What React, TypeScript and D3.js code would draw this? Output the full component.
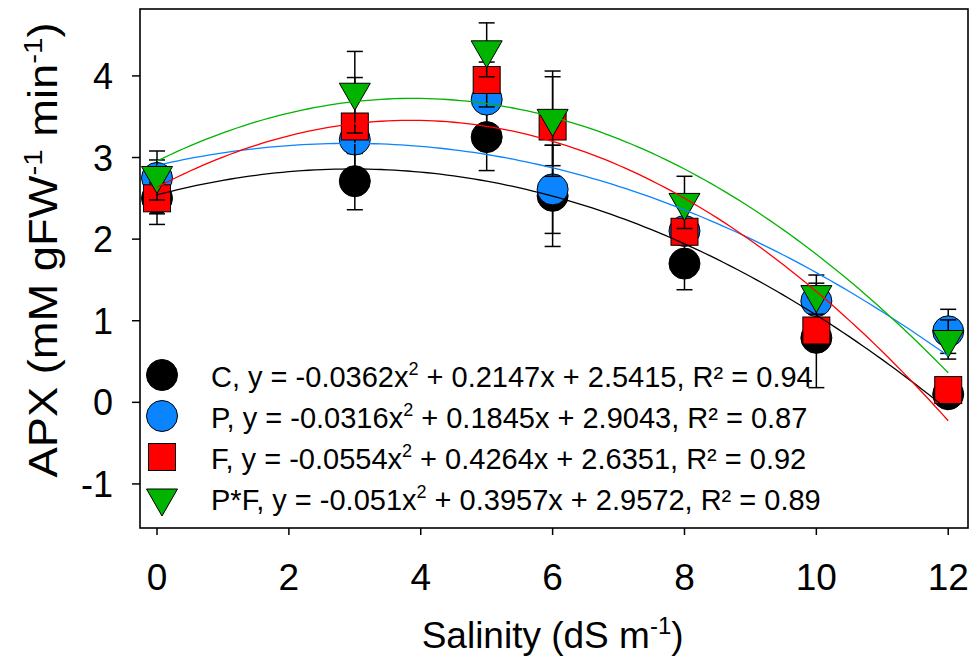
import React from "react";
import * as d3 from "d3";

const salinity = [0, 3, 5, 6, 8, 10, 12];
const seriesNames = ["C", "P", "F", "P*F"];
const cVals = [2.5, 2.71, 3.25, 2.53, 1.7, 0.79, 0.1];
const cErr = [0.32, 0.35, 0.41, 0.62, 0.32, 0.61, 0.05];
const pVals = [2.75, 3.22, 3.71, 2.61, 2.1, 1.24, 0.87];
const pErr = [0.22, 0.17, 0.46, 0.54, 0.1, 0.22, 0.27];
const fVals = [2.5, 3.38, 3.95, 3.38, 2.09, 0.88, 0.15];
const fErr = [0.19, 0.6, 0.33, 0.61, 0.1, 0.1, 0.05];
const pfVals = [2.78, 3.8, 4.32, 3.48, 2.45, 1.32, 0.77];
const pfErr = [0.3, 0.5, 0.33, 0.58, 0.32, 0.24, 0.24];
// quadratic fits: a, b, c
const fitA = [-0.0362, -0.0316, -0.0554, -0.051];
const fitB = [0.2147, 0.1845, 0.4264, 0.3957];
const fitC = [2.5415, 2.9043, 2.6351, 2.9572];
const fitA_txt = ["-0.0362", "-0.0316", "-0.0554", "-0.051"];
const fitB_txt = ["0.2147", "0.1845", "0.4264", "0.3957"];
const fitC_txt = ["2.5415", "2.9043", "2.6351", "2.9572"];
const r2Txt = ["0.94", "0.87", "0.92", "0.89"];
const xTicks = [0, 2, 4, 6, 8, 10, 12];
const yTicks = [-1, 0, 1, 2, 3, 4];

const colors = ["#000000", "#0a84ff", "#ff0000", "#00b400"];
const shapes = ["circle", "circle", "square", "triangle"];
const allVals = [cVals, pVals, fVals, pfVals];
const allErr = [cErr, pErr, fErr, pfErr];

const FONT = "'Liberation Sans', Arial, sans-serif";

const L = 140, R = 968, T = 9, B = 528;

function Marker({ shape, color, cx, cy }: { shape: string; color: string; cx: number; cy: number }) {
  if (shape === "circle") {
    return <circle cx={cx} cy={cy} r={15.5} fill={color} stroke="#000" strokeWidth={1} />;
  }
  if (shape === "square") {
    const s = 27;
    return <rect x={cx - s / 2} y={cy - s / 2} width={s} height={s} fill={color} stroke="#000" strokeWidth={1} />;
  }
  const w = 31, h = 27;
  const top = cy - h / 3;
  return (
    <path
      d={`M${cx - w / 2},${top}L${cx + w / 2},${top}L${cx},${top + h}Z`}
      fill={color}
      stroke="#000"
      strokeWidth={1}
    />
  );
}

export default function App() {
  const x = d3.scaleLinear().domain([-0.258, 12.3]).range([L, R]);
  const y = d3.scaleLinear().domain([-1.54, 4.82]).range([B, T]);
  const curveX = d3.range(0, 12.0001, 0.1);

  const rowY = (i: number) => 375 + i * 41;

  return (
    <svg width={971} height={663} style={{ display: "block", position: "absolute", left: 0, top: 0 }} fontFamily={FONT}>
      <rect x={0} y={0} width={971} height={663} fill="#fff" />
      {/* error bars and markers */}
      {allVals.map((vals, si) => (
        <g key={si}>
          {vals.map((v, i) => {
            const cx = x(salinity[i]);
            const e = allErr[si][i];
            return (
              <g key={i}>
                <line x1={cx} x2={cx} y1={y(v - e)} y2={y(v + e)} stroke="#000" strokeWidth={1.5} />
                <line x1={cx - 8} x2={cx + 8} y1={y(v - e)} y2={y(v - e)} stroke="#000" strokeWidth={1.5} />
                <line x1={cx - 8} x2={cx + 8} y1={y(v + e)} y2={y(v + e)} stroke="#000" strokeWidth={1.5} />
              </g>
            );
          })}
          {vals.map((v, i) => (
            <Marker key={"m" + i} shape={shapes[si]} color={colors[si]} cx={x(salinity[i])} cy={y(v)} />
          ))}
        </g>
      ))}
      {/* fitted curves */}
      {fitA.map((a, si) => (
        <path
          key={"c" + si}
          d={d3.line<number>().x((t) => x(t)).y((t) => y(a * t * t + fitB[si] * t + fitC[si]))(curveX) as string}
          fill="none"
          stroke={colors[si]}
          strokeWidth={1.3}
        />
      ))}
      {/* frame */}
      <rect x={L} y={T} width={R - L} height={B - T} fill="none" stroke="#000" strokeWidth={1.6} />
      {/* x ticks */}
      {xTicks.map((t) => (
        <g key={"xt" + t}>
          <line x1={x(t)} x2={x(t)} y1={B} y2={B + 7} stroke="#000" strokeWidth={1.5} />
          <text x={x(t)} y={590} textAnchor="middle" fontSize={37}>
            {t}
          </text>
        </g>
      ))}
      {yTicks.map((t) => (
        <g key={"yt" + t}>
          <line x1={L - 8} x2={L} y1={y(t)} y2={y(t)} stroke="#000" strokeWidth={1.5} />
          <text x={113} y={y(t) + 13} textAnchor="end" fontSize={36}>
            {t}
          </text>
        </g>
      ))}
      {/* axis titles */}
      <text x={x(6)} y={648} textAnchor="middle" fontSize={37}>
        Salinity (dS m
        <tspan dy={-14} fontSize={24}>-1</tspan>
        <tspan dy={14}>)</tspan>
      </text>
      <text transform="translate(57,250) rotate(-90)" textAnchor="middle" fontSize={40} textLength={455} lengthAdjust="spacingAndGlyphs">
        APX (mM gFW
        <tspan dy={-15} fontSize={26}>-1</tspan>
        <tspan dy={15}> min</tspan>
        <tspan dy={-15} fontSize={26}>-1</tspan>
        <tspan dy={15}>)</tspan>
      </text>
      {/* legend */}
      {seriesNames.map((n, i) => (
        <g key={"lg" + i}>
          <Marker shape={shapes[i]} color={colors[i]} cx={162} cy={rowY(i)} />
          <text x={211} y={rowY(i) + 12} fontSize={29}>
            {`${n}, y = ${fitA_txt[i]}x`}
            <tspan dy={-12} fontSize={18}>2</tspan>
            <tspan dy={12}>{` + ${fitB_txt[i]}x + ${fitC_txt[i]}, R² = ${r2Txt[i]}`}</tspan>
          </text>
        </g>
      ))}
    </svg>
  );
}
